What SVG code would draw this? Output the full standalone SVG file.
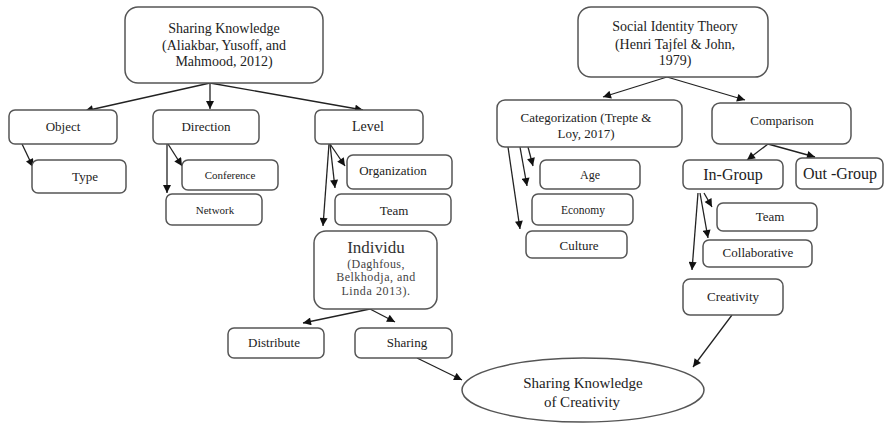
<svg xmlns="http://www.w3.org/2000/svg" width="886" height="423" viewBox="0 0 886 423">
<defs>
<marker id="ah" viewBox="0 0 10 10" refX="10" refY="5" markerWidth="9" markerHeight="8" markerUnits="userSpaceOnUse" orient="auto">
<path d="M0,0 L10,5 L0,10 z" fill="#111"/>
</marker>
<style>
.b{fill:#fff;stroke:#555;stroke-width:1.5}
.t{font-family:"Liberation Serif","Times New Roman",serif;font-size:13px;fill:#222;text-anchor:middle}
.l{font-size:14px}
.s{font-size:11px}
.g{font-size:16px}
.c line{stroke:#222;stroke-width:1.3;marker-end:url(#ah)}
</style>
</defs>
<rect width="886" height="423" fill="#fff"/>

<g class="c" id="connectors">
<line x1="210" y1="83" x2="85" y2="111"/>
<line x1="210" y1="83" x2="210" y2="109"/>
<line x1="210" y1="83" x2="363" y2="110"/>
<line x1="22" y1="144" x2="33" y2="167"/>
<line x1="168" y1="144" x2="182" y2="166"/>
<line x1="167" y1="144" x2="167" y2="193"/>
<line x1="330" y1="144" x2="345" y2="166"/>
<line x1="330" y1="144" x2="335" y2="188"/>
<line x1="329" y1="144" x2="323" y2="226"/>
<line x1="370" y1="309" x2="303" y2="323"/>
<line x1="370" y1="309" x2="395" y2="322"/>
<line x1="417" y1="358" x2="462" y2="380"/>
<line x1="667" y1="77" x2="603" y2="97"/>
<line x1="667" y1="77" x2="745" y2="100"/>
<line x1="768" y1="144" x2="747" y2="160"/>
<line x1="768" y1="144" x2="815" y2="157"/>
<line x1="528" y1="147" x2="533" y2="166"/>
<line x1="520" y1="147" x2="527" y2="186"/>
<line x1="508" y1="147" x2="520" y2="229"/>
<line x1="704" y1="193" x2="712" y2="207"/>
<line x1="700" y1="193" x2="708" y2="238"/>
<line x1="698" y1="193" x2="692" y2="270"/>
<line x1="732" y1="315" x2="693" y2="367"/>
</g>

<g id="sharing-knowledge">
<rect class="b" x="125" y="7" width="198" height="76" rx="13"/>
<text class="t l" x="224" y="33">Sharing Knowledge</text>
<text class="t l" x="224" y="49.5">(Aliakbar, Yusoff, and</text>
<text class="t l" x="224" y="66">Mahmood, 2012)</text>
</g>
<g id="object">
<rect class="b" x="9" y="110" width="108" height="34" rx="6"/>
<text class="t" x="63" y="131">Object</text>
</g>
<g id="direction">
<rect class="b" x="153" y="110" width="106" height="34" rx="6"/>
<text class="t" x="206" y="131">Direction</text>
</g>
<g id="level">
<rect class="b" x="315" y="110" width="108" height="34" rx="6"/>
<text class="t l" x="368" y="131">Level</text>
</g>
<g id="type">
<rect class="b" x="32" y="160" width="94" height="33" rx="6"/>
<text class="t" x="85" y="181">Type</text>
</g>
<g id="conference">
<rect class="b" x="182" y="160" width="96" height="30" rx="6"/>
<text class="t s" x="230" y="179">Conference</text>
</g>
<g id="network">
<rect class="b" x="166" y="194" width="96" height="31" rx="6"/>
<text class="t s" x="215" y="214">Network</text>
</g>
<g id="organization">
<rect class="b" x="347" y="155" width="105" height="34" rx="6"/>
<text class="t" x="393" y="175">Organization</text>
</g>
<g id="team-level">
<rect class="b" x="335" y="194" width="116" height="31" rx="6"/>
<text class="t" x="394" y="215">Team</text>
</g>
<g id="individu">
<rect class="b" x="314" y="231" width="123" height="78" rx="12"/>
<text class="t" x="376" y="253" style="font-size:17px;fill:#333">Individu</text>
<text class="t" x="376" y="268" style="font-size:12px;letter-spacing:0.4px;fill:#444">(Daghfous,</text>
<text class="t" x="376" y="281" style="font-size:12px;letter-spacing:0.5px;fill:#444">Belkhodja, and</text>
<text class="t" x="376" y="295" style="font-size:12px;letter-spacing:0.6px;fill:#444">Linda 2013).</text>
</g>
<g id="distribute">
<rect class="b" x="228" y="328" width="96" height="30" rx="6"/>
<text class="t" x="274" y="347">Distribute</text>
</g>
<g id="sharing">
<rect class="b" x="355" y="328" width="97" height="30" rx="6"/>
<text class="t" x="407" y="347">Sharing</text>
</g>

<g id="social-identity">
<rect class="b" x="578" y="7" width="190" height="70" rx="13"/>
<text class="t l" x="675" y="31">Social Identity Theory</text>
<text class="t l" x="675" y="49">(Henri Tajfel &amp; John,</text>
<text class="t l" x="675" y="65">1979)</text>
</g>
<g id="categorization">
<rect class="b" x="497" y="100" width="185" height="47" rx="8"/>
<text class="t" x="586" y="122">Categorization (Trepte &amp;</text>
<text class="t" x="586" y="138">Loy, 2017)</text>
</g>
<g id="comparison">
<rect class="b" x="712" y="103" width="139" height="41" rx="8"/>
<text class="t" x="782" y="125">Comparison</text>
</g>
<g id="in-group">
<rect class="b" x="683" y="160" width="100" height="29" rx="6"/>
<text class="t g" x="733" y="180">In-Group</text>
</g>
<g id="out-group">
<rect class="b" x="796" y="158" width="87" height="31" rx="6"/>
<text class="t g" x="840" y="179">Out -Group</text>
</g>
<g id="age">
<rect class="b" x="540" y="160" width="100" height="29" rx="6"/>
<text class="t s" x="590" y="179" style="font-size:12px">Age</text>
</g>
<g id="economy">
<rect class="b" x="532" y="194" width="101" height="31" rx="6"/>
<text class="t s" x="583" y="214" style="font-size:11.5px">Economy</text>
</g>
<g id="culture">
<rect class="b" x="526" y="231" width="101" height="27" rx="6"/>
<text class="t" x="579" y="250">Culture</text>
</g>
<g id="team-ingroup">
<rect class="b" x="717" y="203" width="100" height="28" rx="6"/>
<text class="t" x="770" y="221">Team</text>
</g>
<g id="collaborative">
<rect class="b" x="703" y="240" width="109" height="27" rx="6"/>
<text class="t" x="758" y="257">Collaborative</text>
</g>
<g id="creativity">
<rect class="b" x="683" y="279" width="100" height="36" rx="7"/>
<text class="t" x="733" y="301">Creativity</text>
</g>

<g id="sharing-knowledge-creativity">
<ellipse class="b" cx="583" cy="390" rx="121" ry="32"/>
<text class="t" x="583" y="388" style="font-size:15px">Sharing Knowledge</text>
<text class="t" x="582" y="407" style="font-size:15px">of Creativity</text>
</g>
</svg>
